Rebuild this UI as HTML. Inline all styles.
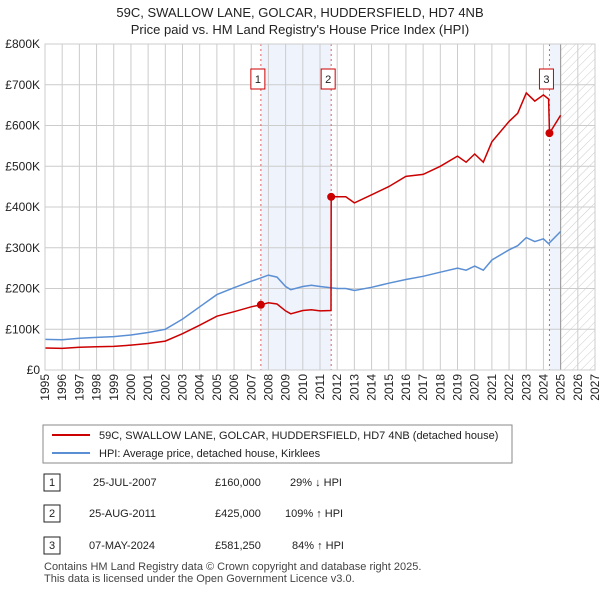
<!DOCTYPE html>
<html><head><meta charset="utf-8"><style>
body{margin:0;background:#fff;font-family:"Liberation Sans",sans-serif;}
svg text{font-family:"Liberation Sans",sans-serif;}
</style></head><body>
<svg id="c" width="600" height="590" xmlns="http://www.w3.org/2000/svg">
<text x="300" y="17" text-anchor="middle" font-size="13" fill="#222">59C, SWALLOW LANE, GOLCAR, HUDDERSFIELD, HD7 4NB</text>
<text x="300" y="34" text-anchor="middle" font-size="13" fill="#222">Price paid vs. HM Land Registry's House Price Index (HPI)</text>
<defs><pattern id="h" width="6" height="6" patternUnits="userSpaceOnUse" patternTransform="rotate(45)"><line x1="0" y1="0" x2="0" y2="6" stroke="#ccc" stroke-width="1"/></pattern></defs>
<g id="g"></g>
<rect x="43" y="425" width="469" height="38" fill="#fff" stroke="#888"/>
<line x1="52" y1="435" x2="90" y2="435" stroke="#cc0000" stroke-width="2"/>
<text x="99" y="439" font-size="11" fill="#222">59C, SWALLOW LANE, GOLCAR, HUDDERSFIELD, HD7 4NB (detached house)</text>
<line x1="52" y1="453" x2="90" y2="453" stroke="#5b8fd4" stroke-width="2"/>
<text x="99" y="457" font-size="11" fill="#222">HPI: Average price, detached house, Kirklees</text>
<g font-size="11" fill="#222">
<rect x="44" y="474" width="16" height="17" fill="#fff" stroke="#222"/><text x="52" y="486" text-anchor="middle">1</text>
<text x="93" y="486">25-JUL-2007</text><text x="215" y="486">£160,000</text><text x="290" y="486">29% ↓ HPI</text>
<rect x="44" y="505" width="16" height="17" fill="#fff" stroke="#222"/><text x="52" y="517" text-anchor="middle">2</text>
<text x="89" y="517">25-AUG-2011</text><text x="215" y="517">£425,000</text><text x="285" y="517">109% ↑ HPI</text>
<rect x="44" y="537" width="16" height="17" fill="#fff" stroke="#222"/><text x="52" y="549" text-anchor="middle">3</text>
<text x="89" y="549">07-MAY-2024</text><text x="215" y="549">£581,250</text><text x="292" y="549">84% ↑ HPI</text>
</g>
<text x="44" y="570" font-size="11" fill="#444">Contains HM Land Registry data © Crown copyright and database right 2025.</text>
<text x="44" y="582" font-size="11" fill="#444">This data is licensed under the Open Government Licence v3.0.</text>
</svg>
<script>
const hpiYears=[1995,1996,1997,1998,1999,2000,2001,2002,2003,2004,2005,2006,2007,2007.5,2008,2008.5,2009,2009.3,2010,2010.5,2011,2012,2012.5,2013,2014,2015,2016,2017,2018,2019,2019.5,2020,2020.5,2021,2022,2022.5,2023,2023.5,2024,2024.3,2025];
const hpiValues=[75,74,78,80,82,86,92,100,125,155,185,202,218,225,233,228,205,197,205,208,205,200,200,195,203,213,222,230,240,250,245,255,245,270,295,305,325,315,322,310,340];
const redYears=[1995,1996,1997,1998,1999,2000,2001,2002,2003,2004,2005,2006,2007,2007.56,2008,2008.5,2009,2009.3,2010,2010.5,2011,2011.64,2011.65,2012,2012.5,2013,2014,2015,2016,2017,2018,2019,2019.5,2020,2020.5,2021,2022,2022.5,2023,2023.5,2024,2024.3,2024.35,2025];
const redValues=[54,53,56,57,58,61,65,71,89,110,132,143,155,160,165,162,145,138,146,148,145,146,425,425,425,410,430,450,475,480,500,525,510,530,510,560,610,630,680,660,675,665,581,625];
const saleYears=[2007.56,2011.65,2024.35];
const saleValues=[160,425,581.25];
const saleLabels=["1","2","3"];
const yTicks=[0,100,200,300,400,500,600,700,800];
const xTicks=[1995,1996,1997,1998,1999,2000,2001,2002,2003,2004,2005,2006,2007,2008,2009,2010,2011,2012,2013,2014,2015,2016,2017,2018,2019,2020,2021,2022,2023,2024,2025,2026,2027];
const X0=45,X1=595,Y0=370,Y1=44;
const xs=y=>X0+(y-1995)/32*(X1-X0);
const ys=v=>Y0-v/800*(Y0-Y1);
const g=document.getElementById('g');const NS='http://www.w3.org/2000/svg';
function mk(t,a){const e=document.createElementNS(NS,t);for(const k in a)e.setAttribute(k,a[k]);g.appendChild(e);return e;}
let r=mk('rect',{x:xs(saleYears[0]),y:Y1,width:xs(saleYears[1])-xs(saleYears[0]),height:Y0-Y1,fill:'#eef3fc'});


r=mk('rect',{x:xs(saleYears[2]),y:Y1,width:xs(2025)-xs(saleYears[2]),height:Y0-Y1,fill:'#eef3fc'});


r=mk('rect',{x:xs(2025),y:Y1,width:X1-xs(2025),height:Y0-Y1,fill:'url(#h)'});


xTicks.forEach(t=>{const l=mk('line',{x1:xs(t),x2:xs(t),y1:Y1,y2:Y0,stroke:'#ccc'});


const tx=mk('text',{x:0,y:0,'font-size':12,fill:'#222','text-anchor':'end',transform:`translate(${xs(t)+4},374) rotate(-90)`});tx.textContent=t;

});
yTicks.forEach(t=>{const l=mk('line',{x1:X0,x2:X1,y1:ys(t),y2:ys(t),stroke:'#ccc'});


const tx=mk('text',{x:40,y:ys(t)+4,'font-size':12,fill:'#222','text-anchor':'end'});tx.textContent=t===0?'£0':'£'+t+'K';

});
let b=mk('line',{x1:xs(2025),x2:xs(2025),y1:Y1,y2:Y0,stroke:'#999'});


saleYears.forEach((s,i)=>{const l=mk('line',{x1:xs(s),x2:xs(s),y1:Y1,y2:Y0,stroke:'#e06060','stroke-dasharray':'2,3'});


const bx=mk('rect',{x:xs(s)-10,y:69,width:14,height:20,fill:'#fff',stroke:'#cc0000'});


const t=mk('text',{x:xs(s)-3,y:83,'font-size':11,'text-anchor':'middle',fill:'#222'});t.textContent=saleLabels[i];

});
const path=(xsA,vs)=>xsA.map((y,i)=>(i?'L':'M')+xs(y).toFixed(1)+','+ys(vs[i]).toFixed(1)).join('');
let p=mk('path',{d:path(hpiYears,hpiValues),fill:'none',stroke:'#5b8fd4','stroke-width':1.5});


p=mk('path',{d:path(redYears,redValues),fill:'none',stroke:'#cc0000','stroke-width':1.5});


saleYears.forEach((s,i)=>{const c=mk('circle',{cx:xs(s),cy:ys(saleValues[i]),r:4,fill:'#cc0000'});

});
let ax=mk('rect',{x:X0,y:Y1,width:X1-X0,height:Y0-Y1,fill:'none',stroke:'#ccc'});


</script>
</body></html>
